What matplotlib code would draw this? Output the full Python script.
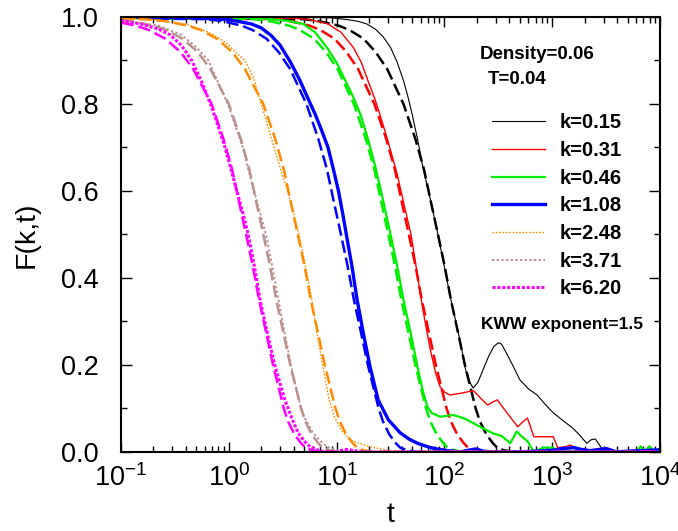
import numpy as np
import matplotlib.pyplot as plt
from matplotlib.lines import Line2D
from matplotlib.ticker import LogLocator, MultipleLocator, NullFormatter

plt.rcParams['font.family'] = ['Liberation Sans', 'DejaVu Sans']

# k values shown in legend
k_labels = ["k=0.15", "k=0.31", "k=0.46", "k=1.08", "k=2.48", "k=3.71", "k=6.20"]

# simulation data F(k,t), log10(t)
logt_k015 = [-1.0, 0.5, 0.95, 1.10, 1.20, 1.28, 1.36, 1.43, 1.50, 1.56, 1.62, 1.66, 1.70, 1.75, 1.80, 1.87, 1.94,
             2.00, 2.06, 2.11, 2.15, 2.19, 2.22, 2.267, 2.31, 2.36, 2.41, 2.46, 2.50, 2.53, 2.58, 2.64, 2.70, 2.78,
             2.86, 2.94, 3.01, 3.10, 3.19, 3.25, 3.32, 3.36, 3.40, 3.46, 3.55, 3.65, 3.75, 3.85, 3.92, 4.0]
F_k015 = [1.0, 1.0, 0.998, 0.994, 0.99, 0.984, 0.972, 0.955, 0.93, 0.897, 0.854, 0.818, 0.777, 0.72, 0.655, 0.58,
          0.50, 0.425, 0.35, 0.295, 0.25, 0.196, 0.166, 0.147, 0.16, 0.19, 0.22, 0.243, 0.251, 0.248, 0.225, 0.196,
          0.166, 0.145, 0.131, 0.108, 0.09, 0.072, 0.055, 0.04, 0.02, 0.028, 0.03, 0.008, 0.003, 0.0, 0.004, 0.0,
          0.003, 0.0]

logt_k031 = [-1.0, 0.4, 0.73, 0.92, 1.04, 1.155, 1.23, 1.29, 1.35, 1.40, 1.47, 1.56, 1.62, 1.69, 1.735, 1.775,
             1.82, 1.87, 1.92, 1.96, 2.00, 2.05, 2.15, 2.27, 2.33, 2.40, 2.45, 2.49, 2.58, 2.68, 2.73, 2.77, 2.83,
             2.92, 3.01, 3.05, 3.12, 3.17, 3.26, 3.40, 3.60, 3.80, 4.0]
F_k031 = [1.0, 0.999, 0.995, 0.984, 0.965, 0.93, 0.895, 0.854, 0.815, 0.777, 0.72, 0.64, 0.575, 0.50, 0.43, 0.365,
          0.30, 0.234, 0.18, 0.15, 0.138, 0.131, 0.135, 0.141, 0.125, 0.108, 0.115, 0.12, 0.09, 0.058, 0.07, 0.078,
          0.035, 0.035, 0.035, 0.01, 0.012, 0.016, 0.003, 0.002, 0.0, 0.003, 0.0]

logt_k046 = [-1.0, 0.0, 0.35, 0.55, 0.69, 0.80, 0.91, 1.00, 1.08, 1.15, 1.22, 1.29, 1.36, 1.43, 1.50, 1.56, 1.62,
             1.69, 1.75, 1.80, 1.84, 1.88, 1.96, 2.02, 2.08, 2.15, 2.21, 2.33, 2.45, 2.53, 2.61, 2.67, 2.72, 2.77,
             2.83, 2.92, 3.0, 3.1, 3.3, 3.5, 3.7, 3.78, 3.82, 3.86, 3.9, 3.95, 4.0]
F_k046 = [1.0, 0.999, 0.996, 0.991, 0.984, 0.965, 0.93, 0.895, 0.854, 0.818, 0.777, 0.72, 0.655, 0.58, 0.50, 0.43,
          0.35, 0.27, 0.196, 0.14, 0.105, 0.09, 0.081, 0.083, 0.085, 0.08, 0.074, 0.058, 0.043, 0.037, 0.02, 0.047,
          0.035, 0.025, 0.0, 0.01, 0.01, 0.0, 0.002, 0.0, 0.0, 0.0, 0.013, 0.0, 0.013, 0.0, 0.008]

logt_k108 = [-1.0, -0.3, 0.0, 0.21, 0.30, 0.39, 0.476, 0.57, 0.66, 0.73, 0.80, 0.86, 0.92, 0.97, 1.017, 1.055,
             1.09, 1.14, 1.19, 1.25, 1.31, 1.385, 1.48, 1.59, 1.67, 1.75, 1.87, 2.0, 2.15, 2.22, 2.29, 2.36, 2.45,
             2.7, 3.0, 3.1, 3.2, 3.27, 3.35, 3.5, 3.6, 3.7, 4.0]
F_k108 = [1.0, 0.998, 0.994, 0.984, 0.975, 0.958, 0.935, 0.897, 0.854, 0.815, 0.777, 0.74, 0.70, 0.65, 0.60, 0.55,
          0.50, 0.43, 0.35, 0.27, 0.196, 0.12, 0.074, 0.044, 0.03, 0.02, 0.01, 0.004, 0.0, 0.004, 0.007, 0.002, 0.0,
          0.0, 0.004, 0.008, 0.01, 0.006, 0.003, 0.008, 0.0, 0.002, 0.005]

logt_k248 = [-1.0, -0.64, -0.37, -0.17, -0.02, 0.06, 0.15, 0.23, 0.30, 0.36, 0.42, 0.48, 0.545, 0.60, 0.65, 0.71,
             0.77, 0.82, 0.87, 0.93, 0.98, 1.06, 1.15, 1.28, 1.45, 1.6, 2.0, 3.0, 4.0]
F_k248 = [0.998, 0.993, 0.982, 0.963, 0.94, 0.92, 0.9, 0.86, 0.8, 0.75, 0.7, 0.65, 0.6, 0.55, 0.5, 0.43, 0.35, 0.27,
          0.2, 0.12, 0.08, 0.044, 0.025, 0.014, 0.005, 0.0, 0.002, 0.0, 0.0]

logt_k371 = [-1.0, -0.65, -0.44, -0.30, -0.19, -0.10, -0.01, 0.06, 0.13, 0.18, 0.235, 0.29, 0.345, 0.40, 0.46, 0.52,
             0.58, 0.65, 0.70, 0.78, 0.85, 0.91, 1.05, 1.5, 4.0]
F_k371 = [0.992, 0.98, 0.959, 0.93, 0.9, 0.85, 0.8, 0.75, 0.7, 0.65, 0.6, 0.55, 0.5, 0.43, 0.35, 0.27, 0.196, 0.12,
          0.08, 0.044, 0.025, 0.012, 0.0, 0.0, 0.0]

logt_k620 = [-1.0, -0.8, -0.65, -0.545, -0.44, -0.344, -0.25, -0.17, -0.10, -0.035, 0.02, 0.074, 0.13, 0.18, 0.235,
             0.29, 0.36, 0.43, 0.52, 0.58, 0.643, 0.70, 0.754, 0.85, 1.0, 1.05, 1.1, 1.17, 1.25, 2.0, 4.0]
F_k620 = [0.992, 0.983, 0.972, 0.959, 0.935, 0.9, 0.85, 0.8, 0.75, 0.7, 0.65, 0.6, 0.55, 0.5, 0.43, 0.35, 0.27,
          0.196, 0.12, 0.08, 0.044, 0.025, 0.012, 0.002, 0.0, 0.004, 0.006, 0.003, 0.0, 0.0, 0.0]

# KWW fits (dashed), shared F levels, log10(t) per k
F_fit = [1.0, 0.995, 0.99, 0.98, 0.97, 0.95, 0.92, 0.88, 0.80, 0.72, 0.65, 0.58, 0.50, 0.43, 0.35, 0.27, 0.20,
         0.15, 0.10, 0.07, 0.04, 0.02, 0.01, 0.004, 0.0, 0.0]
fit_k015 = [-1.45, 0.70, 0.85, 1.02, 1.12, 1.25, 1.36, 1.47, 1.62, 1.73, 1.81, 1.87, 1.94, 2.00, 2.06, 2.13, 2.19,
            2.24, 2.29, 2.33, 2.39, 2.45, 2.49, 2.55, 2.65, 4.0]
fit_k031 = [-1.72, 0.43, 0.58, 0.75, 0.85, 0.98, 1.09, 1.20, 1.35, 1.46, 1.54, 1.60, 1.67, 1.73, 1.79, 1.86, 1.92,
            1.97, 2.02, 2.06, 2.12, 2.18, 2.22, 2.28, 2.38, 4.0]
fit_k046 = [-1.91, 0.24, 0.39, 0.56, 0.66, 0.79, 0.90, 1.01, 1.16, 1.27, 1.35, 1.41, 1.48, 1.54, 1.60, 1.67, 1.73,
            1.78, 1.83, 1.87, 1.93, 1.99, 2.03, 2.09, 2.19, 4.0]
fit_k108 = [-2.35, -0.20, -0.05, 0.12, 0.22, 0.35, 0.46, 0.57, 0.72, 0.83, 0.91, 0.97, 1.04, 1.10, 1.16, 1.23, 1.29,
            1.34, 1.39, 1.43, 1.49, 1.55, 1.59, 1.65, 1.75, 4.0]
fit_k248 = [-2.75, -0.78, -0.58, -0.38, -0.26, -0.11, 0.03, 0.15, 0.32, 0.43, 0.51, 0.57, 0.64, 0.70, 0.76, 0.83,
            0.89, 0.94, 0.99, 1.03, 1.09, 1.15, 1.19, 1.25, 1.35, 4.0]
fit_k371 = [-3.07, -1.10, -0.90, -0.70, -0.58, -0.43, -0.29, -0.17, 0.00, 0.11, 0.19, 0.25, 0.32, 0.38, 0.44, 0.51,
            0.57, 0.62, 0.67, 0.71, 0.77, 0.83, 0.87, 0.93, 1.03, 4.0]
fit_k620 = [-3.23, -1.26, -1.06, -0.86, -0.74, -0.59, -0.45, -0.33, -0.16, -0.05, 0.03, 0.09, 0.16, 0.22, 0.28,
            0.35, 0.41, 0.46, 0.51, 0.55, 0.61, 0.67, 0.71, 0.77, 0.87, 4.0]

data_logt = [logt_k015, logt_k031, logt_k046, logt_k108, logt_k248, logt_k371, logt_k620]
data_F = [F_k015, F_k031, F_k046, F_k108, F_k248, F_k371, F_k620]
fit_logt = [fit_k015, fit_k031, fit_k046, fit_k108, fit_k248, fit_k371, fit_k620]

colors = ['black', '#ff0000', '#00ee00', '#0000ff', '#ff8c00', '#bc8f8f', '#ff00ff']
widths = [0.8, 1.0, 1.6, 2.4, 1.0, 1.4, 2.2]
styles = ['-', '-', '-', '-', (0, (1.2, 1.2)), (0, (1.2, 1.2)), (0, (1, 0.6))]

fig = plt.figure(figsize=(6.78, 5.31), dpi=100)
ax = fig.add_axes([0.1785, 0.1488, 0.795, 0.8192])

handles = []
for i in range(7):
    ax.plot(10 ** np.array(data_logt[i]), data_F[i], color=colors[i], lw=widths[i], ls=styles[i])
    ax.plot(10 ** np.array(fit_logt[i]), F_fit, color=colors[i], lw=1.8, ls=(0, (5, 2)))
    handles.append(Line2D([], [], color=colors[i], lw=widths[i], ls=styles[i]))

ax.set_xscale('log')
ax.set_xlim(0.1, 1e4)
ax.set_ylim(0, 1.0)
ax.yaxis.set_major_locator(MultipleLocator(0.2))
ax.yaxis.set_minor_locator(MultipleLocator(0.1))
ax.xaxis.set_major_locator(LogLocator(base=10, numticks=10))
ax.xaxis.set_minor_locator(LogLocator(base=10, subs=np.arange(2, 10), numticks=20))
ax.xaxis.set_minor_formatter(NullFormatter())
ax.yaxis.set_major_formatter(plt.FuncFormatter(lambda v, p: "%.1f" % v))

ax.tick_params(which='both', direction='in', top=True, right=True, width=1.0)
ax.tick_params(axis='y', which='major', length=8, labelsize=19.5, pad=16)
ax.tick_params(axis='y', which='minor', length=4.5)
ax.tick_params(axis='x', which='major', length=7, labelsize=19.5, pad=9)
ax.tick_params(axis='x', which='minor', length=4)
for s in ax.spines.values():
    s.set_linewidth(1.5)

ax.set_xlabel('t', fontsize=20.5, labelpad=7)
ax.set_ylabel('F(k,t)', fontsize=20.5, labelpad=15)

ax.text(0.666, 0.913, 'Density=0.06', transform=ax.transAxes, fontsize=13.5, fontweight='bold', va='center')
ax.text(0.681, 0.857, 'T=0.04', transform=ax.transAxes, fontsize=13.5, fontweight='bold', va='center')
ax.text(0.668, 0.292, 'KWW exponent=1.5', transform=ax.transAxes, fontsize=12.5, fontweight='bold', va='center')

leg = ax.legend(handles, k_labels, loc='upper left', bbox_to_anchor=(0.655, 0.82), frameon=False,
                prop={'weight': 'bold', 'size': 14.5}, handlelength=2.64, handletextpad=0.7, labelspacing=0.43)

fig.savefig('out.png', dpi=100)
